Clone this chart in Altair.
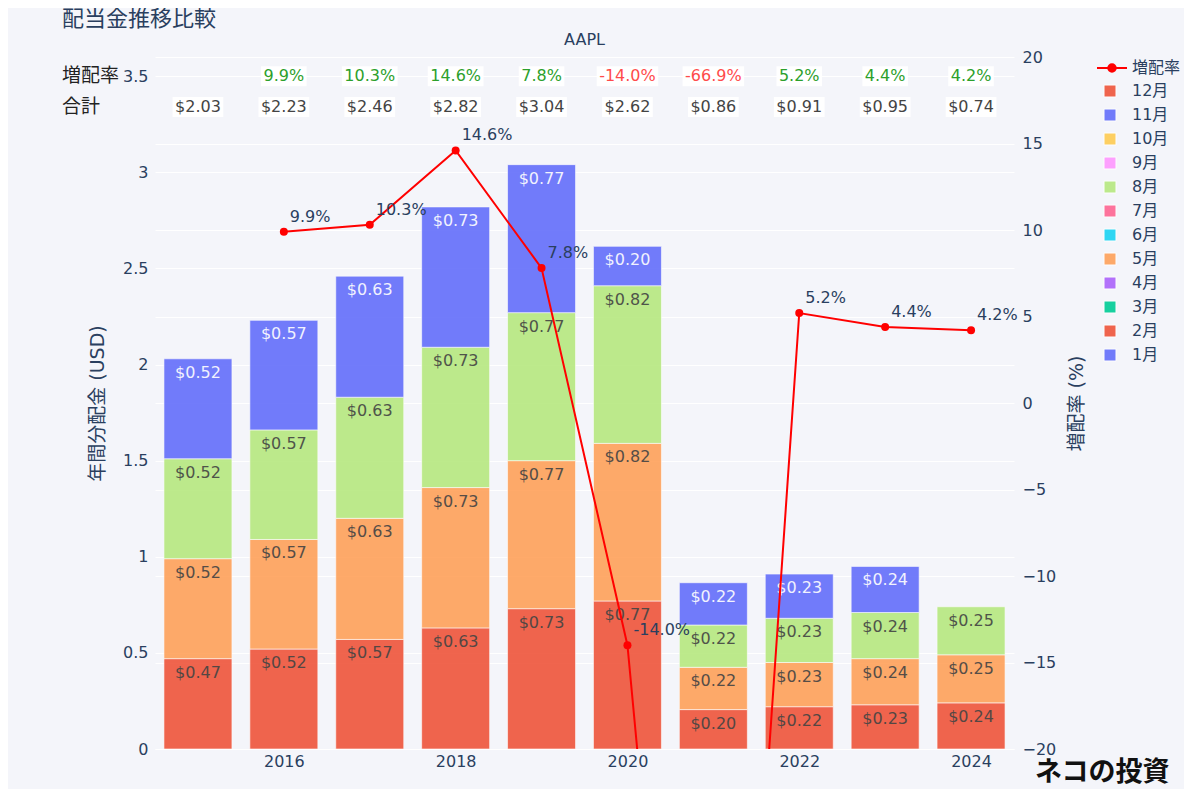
import altair as alt
import pandas as pd

# ---- data ----
years = [2015, 2016, 2017, 2018, 2019, 2020, 2021, 2022, 2023, 2024]
div_feb = [0.47, 0.52, 0.57, 0.63, 0.73, 0.77, 0.205, 0.22, 0.23, 0.24]
div_may = [0.52, 0.57, 0.63, 0.73, 0.77, 0.82, 0.22, 0.23, 0.24, 0.25]
div_aug = [0.52, 0.57, 0.63, 0.73, 0.77, 0.82, 0.22, 0.23, 0.24, 0.25]
div_nov = [0.52, 0.57, 0.63, 0.73, 0.77, 0.205, 0.22, 0.23, 0.24, None]
totals = [2.03, 2.23, 2.46, 2.82, 3.04, 2.62, 0.86, 0.91, 0.95, 0.74]
growth = [None, 9.9, 10.3, 14.6, 7.8, -14.0, -66.9, 5.2, 4.4, 4.2]
month_order = ["12月", "11月", "10月", "9月", "8月", "7月", "6月", "5月", "4月", "3月", "2月", "1月"]
month_colors = ["#EF553B", "#636EFA", "#FECB52", "#FF97FF", "#B6E880", "#FF6692",
                "#19D3F3", "#FFA15A", "#AB63FA", "#00CC96", "#EF553B", "#636EFA"]
x_ticks = [2016, 2018, 2020, 2022, 2024]
left_ticks = [0, 0.5, 1, 1.5, 2, 2.5, 3, 3.5]
right_ticks = [-20, -15, -10, -5, 0, 5, 10, 15, 20]

FONT = "DejaVu Sans, Noto Sans CJK JP"
CJK = "Noto Sans CJK JP"
TXT = "#2a3f5f"
W, H = 859, 692
PX_PER_YEAR = W / 10.0
PX_PER_USD = H / 3.6
R_MIN, R_MAX = -20, 20

# ---- tables ----
rows = []
for mname, mnum, vals in [("2月", 2, div_feb), ("5月", 5, div_may), ("8月", 8, div_aug), ("11月", 11, div_nov)]:
    for y, v in zip(years, vals):
        if v is not None:
            rows.append({"year": y, "month": mname, "mnum": mnum, "value": v})
bars_df = pd.DataFrame(rows)

g_rows = [{"year": y, "growth": g, "series": "増配率", "label": f"{g:.1f}%"}
          for y, g in zip(years, growth) if g is not None]
g_df = pd.DataFrame(g_rows)

CW = {".": 0.318, "%": 0.95, "$": 0.636, "-": 0.361}


def text_w(s, fs=16):
    return sum(CW.get(c, 0.636) for c in s) * fs


ROW_G, ROW_T = 3.5, 3.34
half_h = 10 / PX_PER_USD
ann_rows = []
for y, t, g in zip(years, totals, growth):
    lab = f"${t:.2f}"
    hw = (text_w(lab) + 5) / 2 / PX_PER_YEAR
    ann_rows.append({"year": y, "label": lab, "kind": "total", "row": ROW_T,
                     "x0": y - hw, "x1": y + hw, "y0": ROW_T - half_h, "y1": ROW_T + half_h, "g": 0})
    if g is not None:
        lab = f"{g:.1f}%"
        hw = (text_w(lab) + 5) / 2 / PX_PER_YEAR
        ann_rows.append({"year": y, "label": lab, "kind": "growth", "row": ROW_G,
                         "x0": y - hw, "x1": y + hw, "y0": ROW_G - half_h, "y1": ROW_G + half_h, "g": g})
ann_df = pd.DataFrame(ann_rows)

# ---- scales / axes ----
xscale = alt.Scale(domain=[2014.5, 2024.5], nice=False, zero=False, padding=0)
yL = alt.Scale(domain=[0, 3.6], nice=False, zero=True)
yR = alt.Scale(domain=[R_MIN, R_MAX], nice=False, zero=False)

xaxis = alt.Axis(values=x_ticks, format="d", grid=False, title=None, domain=False, ticks=False,
                 labelFont=FONT, labelFontSize=16, labelColor=TXT, labelPadding=4)
xq = alt.X("year:Q", scale=xscale, axis=xaxis)

base = alt.Chart(bars_df).transform_stack(
    stack="value", groupby=["year"], sort=[alt.SortField("mnum", order="ascending")], as_=["y0", "y1"]
).transform_calculate(lab="'$' + format(datum.value, '.2f')")

bars = base.mark_bar(size=68, opacity=0.9, stroke="white", strokeWidth=1, strokeOpacity=0.6).encode(
    x=xq,
    y=alt.Y("y0:Q", scale=yL,
            axis=alt.Axis(values=left_ticks, format="~g", grid=True, gridColor="white", gridWidth=1,
                          domain=False, ticks=False, labelFont=FONT, labelFontSize=16, labelColor=TXT,
                          labelPadding=7, title="年間分配金 (USD)", titleFont=FONT, titleFontSize=19,
                          titleColor=TXT, titleFontWeight="normal", titlePadding=15)),
    y2="y1:Q",
    color=alt.Color("month:N", scale=alt.Scale(domain=month_order, range=month_colors),
                    legend=alt.Legend(orient="none", legendX=947, legendY=26, title=None,
                                      symbolType="square", symbolSize=144, symbolOpacity=0.9,
                                      symbolStrokeColor="white", symbolStrokeWidth=1,
                                      labelFont=FONT, labelFontSize=16, labelColor=TXT,
                                      labelOffset=14, rowPadding=8, padding=0)),
)

bar_labels = base.mark_text(baseline="alphabetic", dy=19, fontSize=16, font=FONT, opacity=0.9).encode(
    x=xq,
    y=alt.Y("y1:Q", scale=yL, axis=None),
    text="lab:N",
    color=alt.condition("datum.month == '11月'", alt.value("white"), alt.value("#444444")),
)

boxes = alt.Chart(ann_df).mark_rect(color="white", opacity=0.95).encode(
    x=alt.X("x0:Q", scale=xscale, axis=xaxis), x2="x1:Q",
    y=alt.Y("y0:Q", scale=yL, axis=None), y2="y1:Q",
)

ann_text = alt.Chart(ann_df).transform_calculate(
    tcol="datum.kind == 'total' ? '#444444' : (datum.g >= 0 ? '#2ca02c' : '#ff4b4b')"
).mark_text(baseline="middle", fontSize=16, font=FONT).encode(
    x=xq,
    y=alt.Y("row:Q", scale=yL, axis=None),
    text="label:N",
    color=alt.Color("tcol:N", scale=None, legend=None),
)

one = alt.Data(values=[{}])
hdr_g = alt.Chart(one).mark_text(text="増配率", align="left", baseline="middle", fontSize=19,
                                 font=CJK, color="#222222").encode(
    x=alt.value(-93), y=alt.Y(datum=ROW_G, scale=yL, axis=None))
hdr_t = alt.Chart(one).mark_text(text="合計", align="left", baseline="middle", fontSize=19,
                                 font=CJK, color="#222222").encode(
    x=alt.value(-93), y=alt.Y(datum=ROW_T, scale=yL, axis=None))
title = alt.Chart(one).mark_text(text="配当金推移比較", align="left", baseline="middle", fontSize=22,
                                 font=CJK, color=TXT).encode(x=alt.value(-93), y=alt.value(-38))
subtitle = alt.Chart(one).mark_text(text="AAPL", align="center", baseline="middle", fontSize=16,
                                    font=FONT, color=TXT).encode(x=alt.value(W / 2), y=alt.value(-17))
mark_wm = alt.Chart(one).mark_text(text="ネコの投資", align="left", baseline="middle", fontSize=27,
                                   fontWeight="bold", font=CJK, color="#111111").encode(
    x=alt.value(880), y=alt.value(716))

LEG_PATH = "M-1,0L1,0M0.25,0A0.25,0.25,0,1,1,-0.25,0A0.25,0.25,0,1,1,0.25,0Z"

line = alt.Chart(g_df).mark_line(strokeWidth=2, clip=True).encode(
    x=xq,
    y=alt.Y("growth:Q", scale=yR,
            axis=alt.Axis(orient="right", values=right_ticks, format="d", grid=True, gridColor="white",
                          gridWidth=1, domain=False, ticks=False, labelFont=FONT, labelFontSize=16,
                          labelColor=TXT, labelPadding=8, title="増配率 (%)", titleFont=FONT,
                          titleFontSize=19, titleColor=TXT, titleFontWeight="normal",
                          titleAngle=270, titlePadding=31)),
    stroke=alt.Stroke("series:N", scale=alt.Scale(domain=["増配率"], range=["red"]),
                      legend=alt.Legend(orient="none", legendX=941, legendY=-5, title=None,
                                        symbolType=LEG_PATH, symbolSize=900, symbolFillColor="red",
                                        symbolStrokeColor="red", symbolStrokeWidth=2,
                                        labelFont=FONT, labelFontSize=16, labelColor=TXT,
                                        labelOffset=4, padding=0)),
)
points = alt.Chart(g_df).mark_point(filled=True, size=64, color="red", opacity=1, clip=True).encode(
    x=xq, y=alt.Y("growth:Q", scale=yR, axis=None))
line_labels = alt.Chart(g_df).transform_filter(
    f"datum.growth >= {R_MIN} && datum.growth <= {R_MAX}"
).mark_text(align="left", baseline="alphabetic", dx=6, dy=-10, fontSize=16,
            font=FONT, color=TXT).encode(
    x=xq, y=alt.Y("growth:Q", scale=yR, axis=None), text="label:N")

chart = alt.layer(
    bars, bar_labels, boxes, ann_text, hdr_g, hdr_t, title, subtitle, mark_wm,
    line, points, line_labels,
).resolve_scale(y="independent").properties(
    width=W, height=H,
    padding={"left": 147, "top": 49, "right": 170, "bottom": 40},
    autosize=alt.AutoSizeParams(type="none"),
).configure(background="#F4F5FA").configure_view(stroke=None)

chart.save("out.html", embed_options={"renderer": "svg", "actions": False})
